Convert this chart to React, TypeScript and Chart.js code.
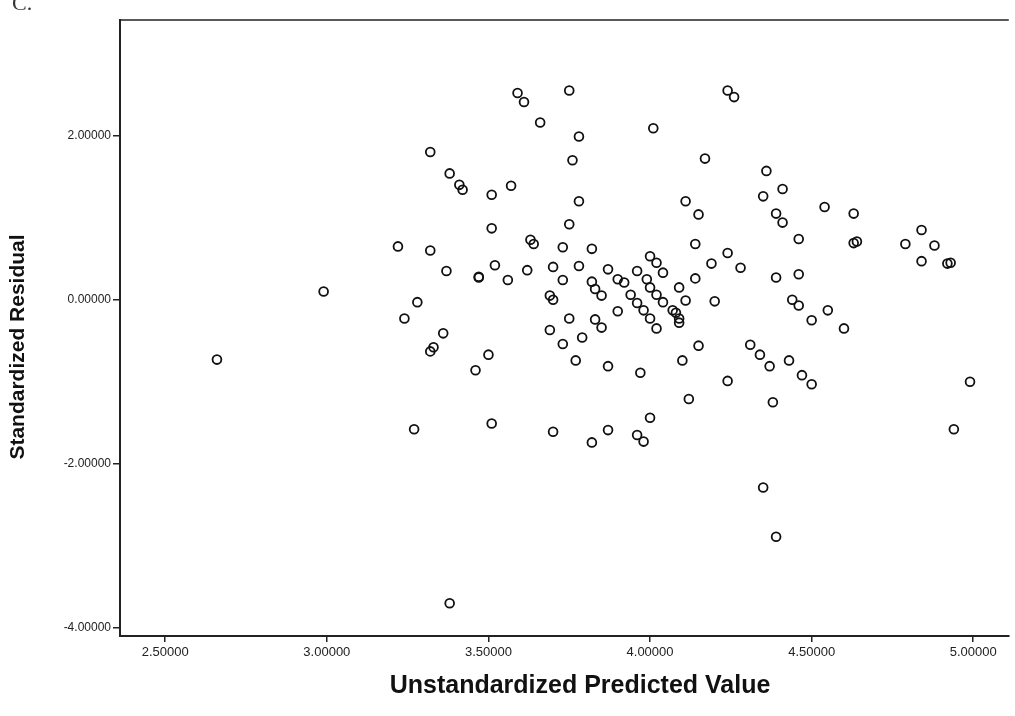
import React, { useEffect, useRef } from "react";
import { Chart, registerables } from "chart.js";

Chart.register(...registerables);

const predictedValues: number[] = [
  2.66, 2.99, 3.22, 3.24, 3.27, 3.28, 3.32, 3.32, 3.32, 3.33,
  3.36, 3.37, 3.38, 3.41, 3.42, 3.38, 3.46, 3.47, 3.50, 3.51,
  3.51, 3.51, 3.52, 3.56, 3.57, 3.59, 3.61, 3.62, 3.63, 3.64,
  3.66, 3.69, 3.70, 3.70, 3.69, 3.70, 3.73, 3.73, 3.73, 3.75,
  3.75, 3.75, 3.76, 3.78, 3.78, 3.78, 3.77, 3.79, 3.82, 3.82,
  3.83, 3.85, 3.83, 3.85, 3.82, 3.87, 3.87, 3.87, 3.90, 3.90,
  3.92, 3.94, 3.96, 3.98, 4.00, 4.02, 3.96, 3.97, 3.96, 3.98,
  4.00, 4.01, 4.00, 4.02, 4.04, 3.99, 4.00, 4.02, 4.04, 4.07,
  4.09, 4.09, 4.11, 4.08, 4.09, 4.10, 4.11, 4.15, 4.14, 4.14,
  4.15, 4.12, 4.17, 4.19, 4.20, 4.24, 4.26, 4.24, 4.24, 4.28,
  4.31, 4.34, 4.37, 4.35, 4.36, 4.35, 4.38, 4.39, 4.39, 4.41,
  4.41, 4.39, 4.43, 4.44, 4.46, 4.46, 4.46, 4.47, 4.50, 4.50,
  4.54, 4.55, 4.60, 4.63, 4.64, 4.63, 4.79, 4.84, 4.88, 4.84,
  4.92, 4.94, 4.99, 4.93, 3.47,
];

const standardizedResiduals: number[] = [
  -0.73, 0.10, 0.65, -0.23, -1.58, -0.03, 0.60, 1.80, -0.63, -0.58,
  -0.41, 0.35, 1.54, 1.40, 1.34, -3.70, -0.86, 0.27, -0.67, -1.51,
  0.87, 1.28, 0.42, 0.24, 1.39, 2.52, 2.41, 0.36, 0.73, 0.68,
  2.16, 0.05, 0.00, 0.40, -0.37, -1.61, -0.54, 0.64, 0.24, 2.55,
  -0.23, 0.92, 1.70, 1.20, 1.99, 0.41, -0.74, -0.46, 0.62, 0.22,
  0.13, 0.05, -0.24, -0.34, -1.74, -0.81, -1.59, 0.37, 0.25, -0.14,
  0.21, 0.06, -0.04, -0.13, -0.23, -0.35, 0.35, -0.89, -1.65, -1.73,
  -1.44, 2.09, 0.53, 0.45, 0.33, 0.25, 0.15, 0.06, -0.03, -0.13,
  -0.23, 0.15, -0.01, -0.16, -0.28, -0.74, 1.20, 1.04, 0.68, 0.26,
  -0.56, -1.21, 1.72, 0.44, -0.02, 2.55, 2.47, 0.57, -0.99, 0.39,
  -0.55, -0.67, -0.81, 1.26, 1.57, -2.29, -1.25, 0.27, 1.05, 0.94,
  1.35, -2.89, -0.74, 0.00, -0.07, 0.74, 0.31, -0.92, -1.03, -0.25,
  1.13, -0.13, -0.35, 0.69, 0.71, 1.05, 0.68, 0.85, 0.66, 0.47,
  0.44, -1.58, -1.00, 0.45, 0.28,
];

const xTickValues: number[] = [2.5, 3.0, 3.5, 4.0, 4.5, 5.0];
const yTickValues: number[] = [-4, -2, 0, 2];
const xAxisTitle = "Unstandardized Predicted Value";
const yAxisTitle = "Standardized Residual";
const panelLabel = "C.";

const framePlugin = {
  id: "frameAndTitles",
  afterDraw(chart: any) {
    const { ctx, chartArea } = chart;
    ctx.save();
    ctx.strokeStyle = "#222";
    ctx.lineWidth = 1.5;
    ctx.beginPath();
    ctx.moveTo(chartArea.left, chartArea.top);
    ctx.lineTo(chartArea.right, chartArea.top);
    ctx.stroke();

    ctx.fillStyle = "#111";
    ctx.textAlign = "center";
    ctx.textBaseline = "middle";
    ctx.font = "bold 25px 'Liberation Sans'";
    ctx.fillText(xAxisTitle, 580, 686);

    ctx.translate(18, 347);
    ctx.rotate(-Math.PI / 2);
    ctx.font = "bold 21px 'Liberation Sans'";
    ctx.fillText(yAxisTitle, 0, 0);
    ctx.restore();
  },
};

export default function App() {
  const canvasRef = useRef<HTMLCanvasElement | null>(null);

  useEffect(() => {
    if (!canvasRef.current) return;
    const points = predictedValues.map((x, i) => ({ x, y: standardizedResiduals[i] }));
    const chart = new Chart(canvasRef.current, {
      type: "scatter",
      data: {
        datasets: [
          {
            data: points,
            pointStyle: "circle",
            pointRadius: 4.4,
            pointBorderWidth: 1.8,
            pointBorderColor: "#111",
            pointBackgroundColor: "rgba(255,255,255,0)",
          },
        ],
      },
      options: {
        animation: false,
        responsive: false,
        maintainAspectRatio: false,
        layout: { padding: { top: 20, right: 5, left: 0, bottom: 0 } },
        plugins: {
          legend: { display: false },
          tooltip: { enabled: false },
        },
        scales: {
          x: {
            type: "linear",
            min: 2.36,
            max: 5.11,
            afterFit: (scale: any) => {
              scale.height = 80;
            },
            afterBuildTicks: (scale: any) => {
              scale.ticks = xTickValues.map((v) => ({ value: v }));
            },
            grid: {
              drawOnChartArea: false,
              drawTicks: true,
              tickLength: 6,
              color: "#222",
              lineWidth: 1.5,
            },
            border: { display: true, color: "#222", width: 2 },
            ticks: {
              color: "#222",
              padding: 3,
              font: { family: "Liberation Sans", size: 13 },
              callback: (v: any) => Number(v).toFixed(5),
            },
            title: { display: false },
          },
          y: {
            type: "linear",
            min: -4.1,
            max: 3.41,
            afterFit: (scale: any) => {
              scale.width = 120;
            },
            afterBuildTicks: (scale: any) => {
              scale.ticks = yTickValues.map((v) => ({ value: v }));
            },
            grid: {
              drawOnChartArea: false,
              drawTicks: true,
              tickLength: 7,
              color: "#222",
              lineWidth: 1.5,
            },
            border: { display: true, color: "#222", width: 2 },
            ticks: {
              color: "#222",
              padding: 2,
              font: { family: "Liberation Sans", size: 12 },
              callback: (v: any) => Number(v).toFixed(5),
            },
            title: { display: false },
          },
        },
      },
      plugins: [framePlugin],
    });
    return () => chart.destroy();
  }, []);

  return (
    <div style={{ position: "absolute", left: 0, top: 0, width: 1015, height: 716, background: "#fff", overflow: "hidden" }}>
      <span
        style={{
          position: "absolute",
          left: 12,
          top: -10,
          fontFamily: "Liberation Serif",
          fontSize: 22,
          color: "#333",
        }}
      >
        {panelLabel}
      </span>
      <canvas ref={canvasRef} width={1015} height={716} style={{ display: "block" }} />
    </div>
  );
}
